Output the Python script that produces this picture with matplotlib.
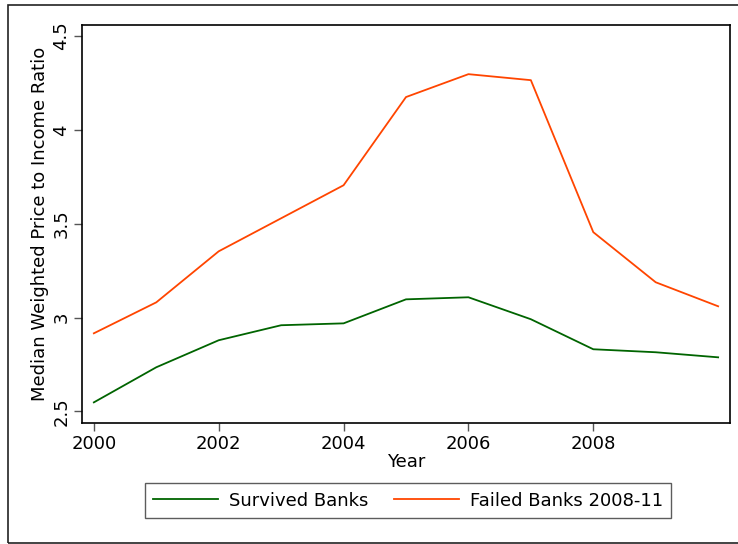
import matplotlib.pyplot as plt
from matplotlib.patches import Rectangle

# data
years = [2000, 2001, 2002, 2003, 2004, 2005, 2006, 2007, 2008, 2009, 2010]
survived = [2.548, 2.735, 2.879, 2.959, 2.969, 3.097, 3.108, 2.991, 2.831, 2.815, 2.788]
failed = [2.916, 3.081, 3.353, 3.529, 3.705, 4.175, 4.297, 4.265, 3.455, 3.188, 3.060]
xticks = [2000, 2002, 2004, 2006, 2008]
yticks = [2.5, 3, 3.5, 4, 4.5]
ytick_labels = ['2.5', '3', '3.5', '4', '4.5']

plt.rcParams['font.family'] = 'DejaVu Sans'

fig = plt.figure(figsize=(7.38, 5.44), dpi=100)
W, H = 738, 544
ax = fig.add_axes([82 / W, 1 - 423 / H, (730 - 82) / W, (423 - 25) / H])

ax.plot(years, survived, color='#006400', lw=1.3, label='Survived Banks')
ax.plot(years, failed, color='#FF4500', lw=1.3, label='Failed Banks 2008-11')

ax.set_xlim(1999.81, 2010.19)
ax.set_ylim(2.438, 4.559)
ax.set_xticks(xticks)
ax.set_xticklabels([str(x) for x in xticks], fontsize=13)
ax.set_yticks(yticks)
ax.set_yticklabels(ytick_labels, fontsize=13, rotation=90, va='center')
ax.tick_params(direction='out', length=6, width=1, color='#555555', pad=2.5)
for s in ax.spines.values():
    s.set_linewidth(1.2)

ax.set_xlabel('Year', fontsize=13, labelpad=0)
ax.set_ylabel('Median Weighted Price to Income Ratio', fontsize=13, labelpad=2)

leg = fig.legend(loc='center', bbox_to_anchor=(408 / W, 1 - 500.5 / H), ncol=2,
                 fontsize=13, frameon=True, fancybox=False, handlelength=3.6,
                 handletextpad=0.6, columnspacing=1.4, borderpad=0.45,
                 borderaxespad=0.3)
leg.get_frame().set_edgecolor('#333333')
leg.get_frame().set_linewidth(1.0)

# outer frame of the graph region
fig.patches.append(Rectangle((8 / W, 1 / H), 1.0, 1 - 6 / H, transform=fig.transFigure,
                             fill=False, edgecolor='#222222', lw=1.2))

fig.savefig('out.png', dpi=100)
